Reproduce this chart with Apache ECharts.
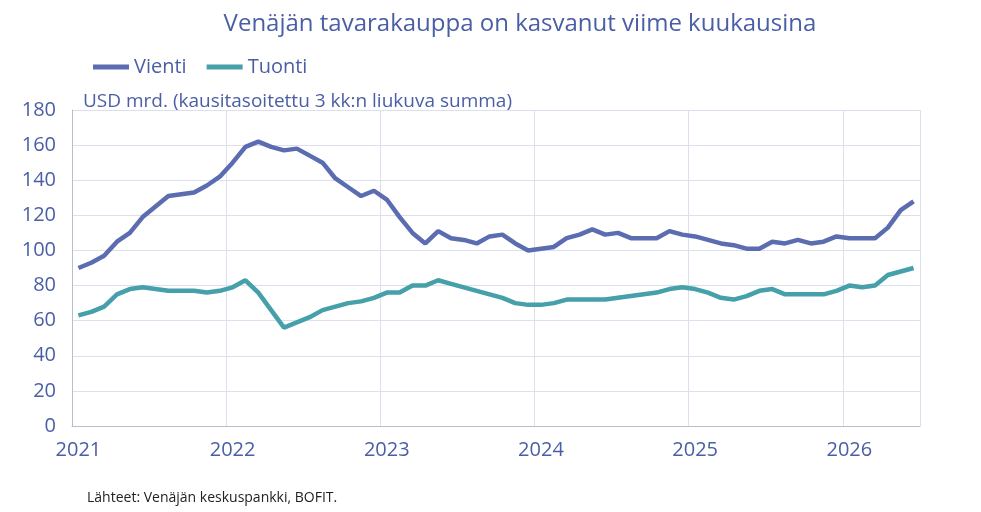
<!DOCTYPE html>
<html lang="fi">
<head>
    <meta charset="UTF-8"/>
    <script src="https://cdn.jsdelivr.net/npm/echarts@6/dist/echarts.min.js"></script>
    <title>Venäjän tavarakauppa</title>
</head>
<body style="margin:0">
<div id="main" style="width: 981px;height:512px;"></div>
<script type="text/javascript">
    // kuukausidata, tammikuu 2021 - kesäkuu 2026
    var vienti = [
        90, 93, 97, 105, 110, 119, 125, 131, 132, 133, 137, 142,
        150, 159, 162, 159, 157, 158, 154, 150, 141, 136, 131, 134,
        129, 119, 110, 104, 111, 107, 106, 104, 108, 109, 104, 100,
        101, 102, 107, 109, 112, 109, 110, 107, 107, 107, 111, 109,
        108, 106, 104, 103, 101, 101, 105, 104, 106, 104, 105, 108,
        107, 107, 107, 113, 123, 128
    ];
    var tuonti = [
        63, 65, 68, 75, 78, 79, 78, 77, 77, 77, 76, 77,
        79, 83, 76, 66, 56, 59, 62, 66, 68, 70, 71, 73,
        76, 76, 80, 80, 83, 81, 79, 77, 75, 73, 70, 69,
        69, 70, 72, 72, 72, 72, 73, 74, 75, 76, 78, 79,
        78, 76, 73, 72, 74, 77, 78, 75, 75, 75, 75, 77,
        80, 79, 80, 86, 88, 90
    ];
    var months = [];
    for (var i = 0; i < vienti.length; i++) {
        months.push(i % 12 === 0 ? String(2021 + i / 12) : '');
    }
    var txt = '#4a5ea6';

    var myChart = echarts.init(document.getElementById('main'));
    var option = {
        textStyle: {fontFamily: 'Open Sans'},
        title: [{
            text: 'Venäjän tavarakauppa on kasvanut viime kuukausina',
            left: 515, top: 7, textAlign: 'center',
            textStyle: {color: txt, fontSize: 24, fontWeight: 'normal'}
        }, {
            text: 'USD mrd. (kausitasoitettu 3 kk:n liukuva summa)',
            left: 78, top: 87,
            textStyle: {color: txt, fontSize: 19, fontWeight: 'normal'}
        }, {
            text: 'Lähteet: Venäjän keskuspankki, BOFIT.',
            left: 82, top: 486,
            textStyle: {color: '#222', fontSize: 14, fontWeight: 'normal'}
        }],
        legend: {
            left: 88, top: 52, itemWidth: 36, itemGap: 20,
            icon: 'rect', itemHeight: 5,
            textStyle: {color: txt, fontSize: 20},
            data: ['Vienti', 'Tuonti']
        },
        grid: {left: 72, right: 61, top: 110, bottom: 86},
        xAxis: {
            type: 'category', data: months, boundaryGap: true,
            axisLine: {lineStyle: {color: '#b8bccc'}},
            axisTick: {show: false},
            axisLabel: {interval: 0, color: txt, fontSize: 20, margin: 14},
            splitLine: {show: true, interval: function (i) { return i % 12 === 0 && i > 0; },
                lineStyle: {color: '#dcdfee'}}
        },
        yAxis: {
            type: 'value', min: 0, max: 180, interval: 20,
            axisLine: {show: true, lineStyle: {color: '#b8bccc'}},
            axisLabel: {color: txt, fontSize: 20, margin: 16},
            splitLine: {lineStyle: {color: '#dcdfee'}}
        },
        series: [{
            name: 'Vienti', type: 'line', data: vienti, symbol: 'none',
            itemStyle: {color: '#5b6db0'}, lineStyle: {width: 4.5}
        }, {
            name: 'Tuonti', type: 'line', data: tuonti, symbol: 'none',
            itemStyle: {color: '#45a0aa'}, lineStyle: {width: 4.5}
        }]
    };
    myChart.setOption(option);
</script>
</body>
</html>
